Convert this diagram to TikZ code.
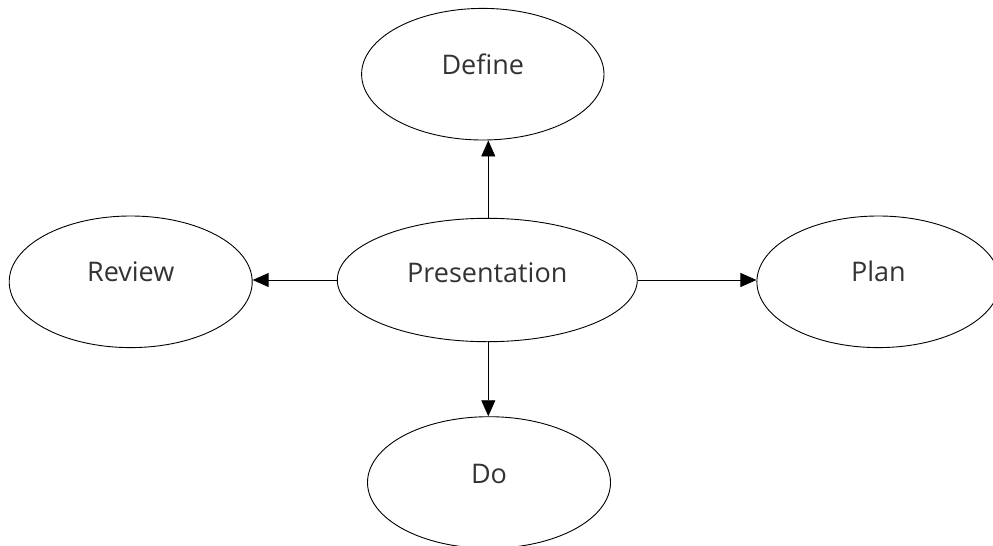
\documentclass[tikz,border=0pt]{standalone}
\usepackage{fontspec}
\setmainfont{Open Sans}
\usetikzlibrary{shapes.geometric,arrows.meta}
\tikzset{
  oval/.style={draw, ellipse, line width=0.9pt, inner sep=0pt, minimum width=243pt, minimum height=131.6pt},
  lbl/.style={yshift=10pt, font=\fontsize{27}{30}\selectfont, text=black!80},
  conn/.style={line width=0.9pt, -{Triangle[length=16pt,width=14pt]}}
}
\begin{document}
\begin{tikzpicture}[x=1pt,y=-1pt]
\path[use as bounding box] (0,0) rectangle (993,546);
\node[oval, minimum width=300pt, minimum height=123.4pt, label={[lbl, yshift=-2.5pt]center:Presentation}] (pres) at (487.3,280) {};
\node[oval, minimum width=242.4pt, label={[lbl]center:Define}] (def) at (482.8,74.2) {};
\node[oval, label={[lbl]center:Review}] (rev) at (130.7,281.8) {};
\node[oval, label={[lbl]center:Plan}] (plan) at (878.4,281.8) {};
\node[oval, label={[lbl, yshift=-1pt]center:Do}] (do) at (489,482.5) {};
\coordinate (ptop) at (488.3,218.3);
\coordinate (pbot) at (488.3,341.7);
\draw[conn] (ptop) -- (ptop |- def.south);
\draw[conn] (pbot) -- (pbot |- do.north);
\draw[conn] (pres.west) -- (pres.west -| rev.east);
\draw[conn] (pres.east) -- (pres.east -| plan.west);
\end{tikzpicture}
\end{document}
